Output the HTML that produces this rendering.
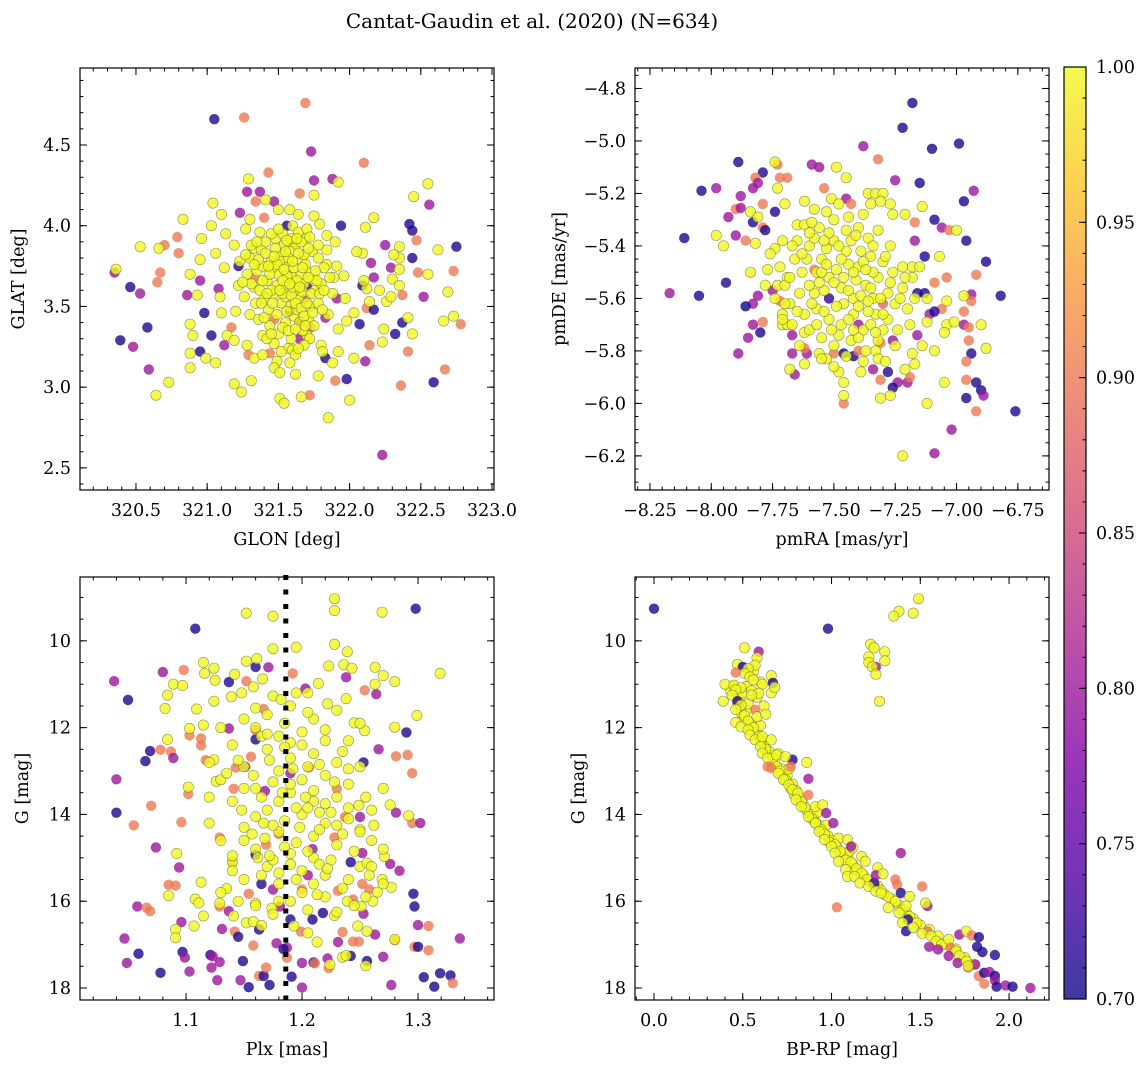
<!DOCTYPE html>
<html><head><meta charset="utf-8">
<style>
html,body{margin:0;padding:0;background:#fff;}
svg{display:block;font-family:"DejaVu Serif","Liberation Serif",serif;}
</style></head>
<body>
<svg id="fig" width="1148" height="1067" viewBox="0 0 1148 1067" xmlns="http://www.w3.org/2000/svg">
<text x="532" y="28" font-size="20" text-anchor="middle">Cantat-Gaudin et al. (2020) (N=634)</text>
</svg>
<script>
// ---------- data: [x, y, membership probability] ----------
const starsSky = [
[321.05,4.66,0.71],[321.26,4.67,0.9],[321.69,4.76,0.9],[321.73,4.46,0.8],[322.10,4.39,0.9],[321.43,4.33,0.9],[321.75,4.28,0.8],[321.88,4.29,0.8],[321.28,4.21,0.8],[321.37,4.21,0.8],[321.65,4.20,0.9],[322.56,4.13,0.8],[321.47,4.15,0.8],[321.34,4.15,0.9],[321.23,4.08,0.8],[321.40,4.05,0.9],[321.56,4.00,0.71],[321.94,4.00,0.71],[322.42,4.01,0.71],[322.44,3.97,0.71],[320.79,3.93,0.9],[320.70,3.88,0.9],[320.80,3.83,0.9],[322.47,3.91,0.9],[322.75,3.87,0.71],[322.44,3.80,0.71],[322.25,3.88,0.8],[322.15,3.77,0.8],[322.29,3.74,0.8],[322.48,3.71,0.9],[322.73,3.72,0.9],[320.35,3.71,0.8],[320.67,3.71,0.9],[320.65,3.65,0.9],[320.46,3.62,0.71],[320.53,3.58,0.8],[320.86,3.57,0.8],[320.95,3.66,0.8],[321.08,3.61,0.8],[321.22,3.75,0.71],[322.09,3.63,0.71],[322.17,3.68,0.8],[322.52,3.56,0.8],[322.37,3.57,0.9],[320.98,3.46,0.71],[322.12,3.49,0.9],[322.17,3.48,0.71],[321.91,3.55,0.8],[320.58,3.37,0.71],[320.39,3.29,0.71],[320.48,3.25,0.8],[321.03,3.32,0.71],[321.12,3.26,0.8],[320.95,3.22,0.71],[321.17,3.37,0.9],[322.07,3.39,0.71],[322.37,3.40,0.71],[322.32,3.33,0.71],[322.78,3.39,0.9],[322.14,3.26,0.9],[322.41,3.22,0.9],[322.11,3.16,0.8],[321.83,3.18,0.71],[321.29,3.20,0.9],[321.44,3.21,0.9],[320.59,3.11,0.8],[322.67,3.11,0.9],[322.59,3.03,0.71],[322.36,3.01,0.9],[321.98,3.05,0.71],[321.90,3.04,0.9],[321.72,2.95,0.9],[322.23,2.58,0.8],[321.65,3.41,0.8],[321.83,3.43,0.8],[321.33,3.68,0.9],[321.47,3.42,0.9],[321.69,3.55,0.85],[321.73,3.37,0.88],[321.58,3.47,0.7],[321.65,3.30,0.8],[321.70,3.62,0.72],[321.62,3.88,0.9],
[321.29,4.29,1],[321.92,4.27,1],[321.75,4.19,1],[321.04,4.14,1],[322.55,4.26,1],[322.45,4.18,1],[321.10,4.07,1],[320.83,4.04,1],[322.17,4.05,1],[322.11,3.99,1],[320.53,3.87,1],[320.66,3.86,1],[320.36,3.73,1],[322.62,3.85,1],[322.35,3.87,1],[322.35,3.80,1],[322.35,3.73,1],[322.55,3.70,1],[322.69,3.59,1],[322.66,3.41,1],[322.73,3.44,1],[322.44,3.33,1],[322.41,3.43,1],[322.24,3.36,1],[322.23,3.28,1],[322.03,3.18,1],[322.00,2.92,1],[321.85,2.81,1],[321.78,3.07,1],[321.62,3.08,1],[321.51,2.93,1],[321.54,2.90,1],[321.66,2.94,1],[321.24,2.97,1],[321.19,3.02,1],[321.31,3.04,1],[320.73,3.03,1],[320.64,2.95,1],[320.88,3.12,1],[320.88,3.21,1],[321.06,3.15,1],[320.99,3.18,1],[320.90,3.32,1],[320.88,3.39,1],[320.93,3.57,1],[320.88,3.70,1],[320.95,3.79,1],[321.06,3.83,1],[320.96,3.92,1],[321.03,4.00,1],[321.13,3.95,1],[321.19,3.88,1],[321.12,3.74,1],[321.09,3.56,1],[321.10,3.46,1],[321.14,3.32,1],[321.19,3.29,1],[321.28,3.26,1],[321.39,3.32,1],[321.33,3.18,1],[321.39,3.20,1],[321.49,3.16,1],[321.47,3.12,1],[321.51,3.09,1],[321.57,3.24,1],[321.60,3.23,1],[321.70,3.32,1],[321.80,3.26,1],[321.81,3.22,1],[321.88,3.15,1],[321.92,3.22,1],[321.92,3.36,1],[321.98,3.41,1],[322.03,3.46,1],[321.97,3.55,1],[321.89,3.68,1],[321.96,3.69,1],[321.84,3.76,1],[321.91,3.75,1],[321.84,3.94,1],[321.90,3.90,1],[321.79,4.01,1],[321.75,4.06,1],[321.64,4.07,1],[321.58,4.10,1],[321.50,4.10,1],[321.41,4.16,1],[321.30,4.04,1],[321.27,3.98,1],[321.33,3.86,1],[322.12,3.61,1],[322.14,3.53,1],[322.21,3.60,1],[322.26,3.53,1],[322.29,3.56,1],[322.09,3.83,1],[322.05,3.84,1],[322.31,3.82,1],[322.30,3.67,1],[322.35,3.63,1],[322.10,3.66,1],
[321.30,3.80,1],[321.35,3.72,1],[321.38,3.85,1],[321.42,3.66,1],[321.45,3.78,1],[321.47,3.58,1],[321.50,3.70,1],[321.52,3.82,1],[321.55,3.62,1],[321.57,3.75,1],[321.60,3.68,1],[321.62,3.88,1],[321.64,3.55,1],[321.66,3.79,1],[321.68,3.64,1],[321.70,3.72,1],[321.72,3.50,1],[321.74,3.84,1],[321.76,3.60,1],[321.40,3.55,1],[321.43,3.48,1],[321.48,3.92,1],[321.53,3.95,1],[321.58,3.50,1],[321.61,3.44,1],[321.65,3.40,1],[321.69,3.92,1],[321.33,3.62,1],[321.28,3.70,1],[321.26,3.56,1],[321.36,3.42,1],[321.44,3.38,1],[321.50,3.33,1],[321.55,3.40,1],[321.59,3.30,1],[321.63,3.48,1],[321.67,3.35,1],[321.71,3.42,1],[321.75,3.38,1],[321.78,3.52,1],[321.80,3.64,1],[321.82,3.74,1],[321.78,3.80,1],[321.54,3.88,1],[321.46,3.74,1],[321.49,3.63,1],[321.52,3.52,1],[321.56,3.69,1],[321.62,3.60,1],[321.66,3.70,1],[321.58,3.84,1],[321.41,3.90,1],[321.37,3.96,1],[321.60,4.00,1],[321.64,3.96,1],[321.45,3.60,1],[321.39,3.75,1],[321.31,3.88,1],[321.23,3.78,1],[321.22,3.63,1],[321.20,3.47,1],[321.30,3.45,1],[321.34,3.52,1],[321.72,3.30,1],[321.68,3.26,1],[321.62,3.20,1],[321.58,3.15,1],[321.52,3.22,1],[321.47,3.27,1],[321.42,3.30,1],[321.85,3.45,1],[321.88,3.58,1],[321.86,3.68,1],[321.84,3.85,1],[321.70,3.98,1],[321.55,3.56,1],[321.51,3.78,1],[321.68,3.82,1],[321.74,3.67,1],
[321.36,3.79,1],[321.41,3.83,1],[321.44,3.70,1],[321.48,3.86,1],[321.49,3.76,1],[321.53,3.66,1],[321.54,3.73,1],[321.57,3.80,1],[321.59,3.92,1],[321.61,3.74,1],[321.63,3.66,1],[321.64,3.83,1],[321.67,3.59,1],[321.69,3.76,1],[321.71,3.86,1],[321.73,3.58,1],[321.37,3.60,1],[321.39,3.66,1],[321.42,3.58,1],[321.46,3.52,1],[321.49,3.45,1],[321.53,3.58,1],[321.56,3.47,1],[321.59,3.57,1],[321.60,3.62,1],[321.62,3.52,1],[321.66,3.49,1],[321.68,3.44,1],[321.70,3.52,1],[321.74,3.46,1],[321.76,3.72,1],[321.77,3.66,1],[321.79,3.58,1],[321.81,3.48,1],[321.56,3.91,1],[321.45,3.95,1],[321.50,3.98,1],[321.66,3.90,1],[321.72,3.93,1],[321.35,3.90,1],[321.33,3.76,1],[321.31,3.64,1],[321.38,3.52,1],[321.40,3.43,1],[321.45,3.33,1],[321.53,3.37,1],[321.57,3.35,1],[321.62,3.36,1],[321.64,3.24,1],[321.69,3.38,1],[321.60,3.78,1],[321.55,3.84,1],[321.47,3.81,1],[321.43,3.75,1],[321.51,3.60,1],[321.58,3.64,1],[321.65,3.62,1],[321.71,3.68,1],[321.67,3.74,1],[321.63,3.92,1],[321.78,3.88,1],[321.82,3.60,1],[321.27,3.82,1],[321.25,3.65,1]
];
const starsPm = [
[-7.18,-4.855,0.71],[-7.22,-4.95,0.71],[-7.10,-5.03,0.71],[-6.99,-5.01,0.71],[-7.38,-5.02,0.8],[-7.32,-5.07,0.9],[-7.89,-5.08,0.71],[-7.73,-5.09,0.9],[-7.59,-5.09,0.8],[-7.56,-5.10,0.8],[-7.79,-5.12,0.71],[-7.82,-5.14,0.9],[-7.72,-5.14,0.9],[-7.69,-5.14,0.9],[-8.04,-5.19,0.71],[-7.98,-5.18,0.8],[-7.83,-5.18,0.8],[-7.81,-5.16,0.8],[-7.54,-5.18,0.9],[-7.25,-5.15,0.8],[-7.15,-5.16,0.71],[-6.93,-5.19,0.8],[-7.88,-5.21,0.8],[-7.79,-5.24,0.9],[-6.97,-5.23,0.71],[-7.90,-5.26,0.9],[-7.88,-5.255,0.8],[-7.74,-5.27,0.71],[-7.93,-5.29,0.8],[-7.83,-5.31,0.71],[-7.79,-5.33,0.9],[-7.78,-5.34,0.71],[-8.11,-5.37,0.71],[-7.90,-5.36,0.8],[-7.86,-5.38,0.9],[-7.45,-5.22,0.8],[-7.43,-5.24,0.9],[-7.17,-5.31,0.9],[-7.09,-5.30,0.71],[-7.06,-5.33,0.8],[-7.03,-5.34,0.9],[-6.96,-5.38,0.71],[-7.17,-5.38,0.8],[-7.13,-5.44,0.71],[-6.88,-5.46,0.71],[-6.92,-5.51,0.9],[-7.04,-5.52,0.9],[-7.09,-5.54,0.9],[-7.94,-5.54,0.71],[-8.17,-5.58,0.8],[-8.05,-5.59,0.71],[-6.82,-5.59,0.71],[-7.16,-5.58,0.71],[-7.13,-5.58,0.71],[-6.94,-5.585,0.8],[-6.94,-5.61,0.9],[-7.81,-5.59,0.8],[-7.83,-5.62,0.8],[-7.86,-5.63,0.7],[-7.72,-5.61,0.9],[-7.75,-5.57,0.8],[-7.83,-5.70,0.8],[-7.79,-5.69,0.9],[-7.80,-5.73,0.71],[-7.85,-5.75,0.8],[-7.89,-5.81,0.8],[-7.67,-5.74,0.8],[-7.67,-5.81,0.8],[-7.61,-5.81,0.8],[-7.62,-5.79,0.9],[-7.50,-5.81,0.9],[-7.42,-5.82,0.71],[-7.40,-5.80,0.9],[-7.31,-5.77,0.9],[-7.16,-5.74,0.8],[-7.11,-5.66,0.8],[-7.06,-5.64,0.9],[-7.09,-5.65,0.71],[-6.97,-5.65,0.9],[-6.97,-5.70,0.8],[-6.95,-5.71,0.9],[-6.95,-5.76,0.9],[-6.94,-5.81,0.71],[-6.96,-5.84,0.9],[-6.96,-5.91,0.9],[-6.92,-5.92,0.71],[-6.90,-5.95,0.71],[-6.89,-5.97,0.8],[-6.96,-5.98,0.71],[-6.92,-6.03,0.9],[-6.76,-6.03,0.71],[-7.02,-6.10,0.8],[-7.09,-6.19,0.8],[-7.66,-5.89,0.8],[-7.34,-5.87,0.8],[-7.31,-5.91,0.9],[-7.28,-5.88,0.71],[-7.24,-5.92,0.8],[-7.20,-5.92,0.8],[-7.26,-5.94,0.71],[-7.19,-5.90,0.9],[-7.46,-6.00,0.9],
[-7.58,-5.49,0.9],[-7.52,-5.60,0.72],[-7.40,-5.70,0.8],[-7.30,-5.62,0.88],[-7.26,-5.76,0.8],[-7.46,-5.81,0.7],
[-7.74,-5.08,1],[-7.49,-5.10,1],[-7.45,-5.14,1],[-7.73,-5.18,1],[-7.84,-5.27,1],[-7.81,-5.29,1],[-7.98,-5.36,1],[-7.95,-5.40,1],[-7.82,-5.39,1],[-7.14,-5.25,1],[-7.00,-5.34,1],[-7.07,-5.44,1],[-6.90,-5.70,1],[-6.88,-5.79,1],[-7.05,-5.92,1],[-7.12,-6.00,1],[-7.22,-6.20,1],[-7.31,-5.98,1],[-7.27,-5.97,1],[-7.46,-5.97,1],[-7.46,-5.92,1],[-7.39,-5.88,1],[-7.68,-5.87,1],[-7.71,-5.70,1],[-7.84,-5.50,1],[-7.77,-5.49,1],[-7.36,-5.20,1],[-7.33,-5.20,1],[-7.30,-5.20,1],[-7.35,-5.24,1],[-7.27,-5.24,1],[-7.31,-5.23,1],[-7.26,-5.28,1],[-7.21,-5.28,1],[-7.51,-5.22,1],[-7.70,-5.24,1],[-7.62,-5.23,1],[-7.65,-5.32,1],[-7.74,-5.41,1],[-7.71,-5.38,1],[-7.18,-5.48,1],[-7.15,-5.48,1],[-7.18,-5.52,1],[-7.12,-5.60,1],[-7.12,-5.69,1],[-7.04,-5.70,1],[-7.01,-5.69,1],[-7.05,-5.73,1],[-6.97,-5.59,1],[-7.04,-5.61,1],[-7.09,-5.80,1],[-7.14,-5.78,1],[-7.18,-5.81,1],[-7.17,-5.85,1],[-7.21,-5.87,1],[-7.33,-5.80,1],[-7.32,-5.83,1],[-7.56,-5.81,1],[-7.53,-5.83,1],[-7.48,-5.88,1],[-7.62,-5.73,1],[-7.69,-5.70,1],[-7.71,-5.66,1],[-7.73,-5.55,1],[-7.69,-5.52,1],
[-7.60,-5.40,1],[-7.55,-5.45,1],[-7.50,-5.38,1],[-7.45,-5.42,1],[-7.40,-5.48,1],[-7.35,-5.44,1],[-7.52,-5.52,1],[-7.47,-5.56,1],[-7.42,-5.60,1],[-7.37,-5.55,1],[-7.32,-5.52,1],[-7.28,-5.58,1],[-7.58,-5.58,1],[-7.63,-5.50,1],[-7.66,-5.45,1],[-7.70,-5.55,1],[-7.68,-5.62,1],[-7.62,-5.66,1],[-7.57,-5.64,1],[-7.52,-5.68,1],[-7.47,-5.70,1],[-7.42,-5.66,1],[-7.38,-5.72,1],[-7.33,-5.66,1],[-7.28,-5.68,1],[-7.25,-5.62,1],[-7.30,-5.46,1],[-7.26,-5.50,1],[-7.22,-5.56,1],[-7.45,-5.34,1],[-7.50,-5.30,1],[-7.56,-5.33,1],[-7.62,-5.32,1],[-7.40,-5.33,1],[-7.36,-5.37,1],[-7.55,-5.75,1],[-7.60,-5.72,1],[-7.50,-5.78,1],[-7.43,-5.76,1],[-7.37,-5.80,1],[-7.32,-5.76,1],[-7.64,-5.78,1],[-7.72,-5.48,1],[-7.74,-5.60,1],[-7.65,-5.38,1],[-7.58,-5.26,1],[-7.48,-5.24,1],[-7.44,-5.47,1],[-7.49,-5.49,1],[-7.54,-5.57,1],[-7.41,-5.53,1],[-7.34,-5.60,1],[-7.24,-5.72,1],[-7.20,-5.64,1],[-7.22,-5.48,1],[-7.27,-5.40,1],[-7.32,-5.34,1],[-7.67,-5.70,1],[-7.71,-5.68,1],[-7.57,-5.50,1],[-7.46,-5.62,1],[-7.39,-5.42,1],[-7.52,-5.35,1],[-7.61,-5.45,1],[-7.36,-5.65,1],[-7.30,-5.72,1],[-7.45,-5.82,1],[-7.55,-5.83,1],[-7.29,-5.84,1],[-7.19,-5.70,1],[-7.17,-5.60,1],[-7.76,-5.43,1],[-7.78,-5.55,1],
[-7.58,-5.37,1],[-7.53,-5.41,1],[-7.47,-5.45,1],[-7.43,-5.38,1],[-7.38,-5.46,1],[-7.34,-5.50,1],[-7.55,-5.50,1],[-7.50,-5.54,1],[-7.44,-5.57,1],[-7.39,-5.59,1],[-7.35,-5.56,1],[-7.31,-5.60,1],[-7.60,-5.55,1],[-7.64,-5.58,1],[-7.59,-5.62,1],[-7.54,-5.65,1],[-7.49,-5.63,1],[-7.44,-5.68,1],[-7.40,-5.63,1],[-7.35,-5.70,1],[-7.30,-5.66,1],[-7.48,-5.40,1],[-7.42,-5.50,1],[-7.37,-5.49,1],[-7.53,-5.47,1],[-7.63,-5.43,1],[-7.68,-5.52,1],[-7.65,-5.65,1],[-7.57,-5.70,1],[-7.48,-5.74,1],[-7.40,-5.75,1],[-7.33,-5.73,1],[-7.27,-5.54,1],[-7.29,-5.44,1],[-7.34,-5.40,1],[-7.41,-5.36,1],[-7.54,-5.38,1],[-7.60,-5.35,1],[-7.67,-5.40,1],[-7.44,-5.29,1],[-7.38,-5.28,1],[-7.53,-5.27,1],[-7.23,-5.60,1],[-7.21,-5.52,1],[-7.25,-5.78,1],[-7.38,-5.84,1],[-7.50,-5.86,1],[-7.62,-5.85,1],[-7.70,-5.62,1],[-7.56,-5.54,1],[-7.46,-5.52,1],[-7.36,-5.61,1],[-7.51,-5.72,1],[-7.42,-5.72,1],[-7.59,-5.31,1]
];
const starsPlx = [
[1.108,9.72,0.71],[1.298,9.26,0.71],[1.038,10.93,0.8],[1.050,11.36,0.71],[1.080,10.72,0.8],[1.098,10.67,0.9],[1.137,10.95,0.71],[1.152,10.93,0.9],[1.160,10.60,0.71],[1.171,10.61,0.8],[1.192,10.75,0.9],[1.203,11.10,0.8],[1.238,10.84,0.8],[1.254,11.14,0.9],[1.264,11.23,0.8],[1.167,11.57,0.9],[1.103,12.18,0.9],[1.113,12.25,0.9],[1.113,12.41,0.9],[1.137,12.02,0.8],[1.160,12.27,0.71],[1.290,12.11,0.71],[1.266,12.50,0.8],[1.069,12.54,0.71],[1.065,12.77,0.71],[1.078,12.51,0.9],[1.087,12.55,0.9],[1.089,12.70,0.8],[1.117,12.75,0.9],[1.156,12.67,0.9],[1.281,12.66,0.9],[1.291,12.63,0.9],[1.253,12.80,0.71],[1.295,13.05,0.9],[1.040,13.19,0.8],[1.143,12.92,0.9],[1.151,12.90,0.8],[1.206,12.92,0.9],[1.102,13.53,0.9],[1.070,13.80,0.9],[1.040,13.96,0.71],[1.055,14.25,0.9],[1.096,14.18,0.9],[1.141,13.41,0.9],[1.168,13.46,0.8],[1.230,13.41,0.9],[1.281,13.96,0.8],[1.295,14.20,0.9],[1.302,14.20,0.8],[1.237,14.06,0.9],[1.250,14.06,0.8],[1.228,14.53,0.9],[1.129,14.53,0.9],[1.074,14.76,0.8],[1.169,14.70,0.9],[1.160,14.93,0.71],[1.209,14.80,0.8],[1.242,15.10,0.71],[1.252,14.89,0.8],[1.094,15.22,0.8],[1.276,15.14,0.8],[1.284,15.30,0.8],[1.140,15.10,0.9],[1.165,15.60,0.71],[1.085,15.62,0.9],[1.091,15.64,0.9],[1.175,15.73,0.8],[1.200,15.73,0.9],[1.231,15.76,0.9],[1.252,15.60,0.9],[1.258,15.73,0.9],[1.296,15.83,0.71],[1.205,15.40,0.8],[1.154,15.83,0.9],[1.058,16.12,0.8],[1.066,16.15,0.9],[1.069,16.23,0.9],[1.137,16.23,0.8],[1.129,16.12,0.9],[1.181,16.12,0.8],[1.218,16.27,0.71],[1.244,15.96,0.9],[1.253,16.29,0.8],[1.297,16.12,0.71],[1.096,16.48,0.8],[1.131,16.64,0.8],[1.142,16.70,0.9],[1.145,16.82,0.71],[1.163,16.65,0.71],[1.190,16.42,0.71],[1.209,16.42,0.71],[1.199,16.70,0.9],[1.235,16.71,0.9],[1.263,16.77,0.8],[1.300,16.55,0.8],[1.309,16.57,0.9],[1.047,16.86,0.8],[1.158,17.02,0.9],[1.178,16.97,0.8],[1.187,17.07,0.8],[1.231,16.94,0.8],[1.244,16.93,0.9],[1.249,16.93,0.9],[1.280,16.90,0.9],[1.297,17.05,0.9],[1.300,17.05,0.71],[1.309,17.13,0.9],[1.336,16.86,0.8],[1.059,17.21,0.71],[1.049,17.42,0.8],[1.097,17.17,0.71],[1.099,17.30,0.8],[1.121,17.24,0.71],[1.123,17.27,0.8],[1.129,17.40,0.8],[1.149,17.38,0.71],[1.122,17.53,0.8],[1.103,17.62,0.8],[1.078,17.65,0.71],[1.127,17.82,0.8],[1.147,17.82,0.8],[1.154,17.98,0.71],[1.163,17.72,0.9],[1.167,17.72,0.71],[1.169,17.53,0.9],[1.172,17.93,0.71],[1.184,17.10,0.71],[1.191,17.74,0.71],[1.187,17.30,0.9],[1.200,17.99,0.8],[1.200,17.42,0.8],[1.210,17.41,0.71],[1.211,17.43,0.9],[1.223,17.54,0.9],[1.222,17.32,0.8],[1.242,17.26,0.71],[1.256,17.38,0.71],[1.270,17.28,0.8],[1.277,17.93,0.8],[1.305,17.75,0.71],[1.314,17.97,0.71],[1.319,17.66,0.71],[1.328,17.71,0.71],[1.330,17.89,0.9],
[1.18,14.45,0.9],[1.16,12.05,0.88],[1.19,13.05,0.8],
[1.228,9.03,1],[1.228,9.30,1],[1.269,9.34,1],[1.152,9.36,1],[1.175,9.43,1],[1.319,10.75,1],[1.228,10.08,1],[1.195,10.15,1],[1.175,10.18,1],[1.239,10.25,1],[1.161,10.41,1],[1.152,10.47,1],[1.115,10.50,1],[1.124,10.63,1],[1.116,10.75,1],[1.142,10.77,1],[1.089,11.00,1],[1.097,11.03,1],[1.084,11.25,1],[1.125,10.91,1],[1.082,11.56,1],[1.109,11.57,1],[1.124,11.39,1],[1.139,11.29,1],[1.148,11.20,1],[1.158,11.06,1],[1.166,10.88,1],[1.175,11.27,1],[1.182,11.35,1],[1.195,11.20,1],[1.205,11.20,1],[1.214,10.98,1],[1.223,10.58,1],[1.236,10.55,1],[1.243,10.63,1],[1.238,11.33,1],[1.222,11.45,1],[1.263,10.61,1],[1.270,10.80,1],[1.280,10.94,1],[1.263,11.00,1],[1.299,11.72,1],[1.280,11.99,1],[1.254,12.07,1],[1.245,11.89,1],[1.084,12.27,1],[1.103,12.02,1],[1.115,11.94,1],[1.124,12.74,1],[1.126,13.24,1],[1.102,13.37,1],[1.092,14.90,1],[1.085,15.87,1],[1.091,16.65,1],[1.091,16.84,1],[1.107,16.57,1],[1.115,16.34,1],[1.108,15.95,1],[1.111,16.04,1],[1.135,15.71,1],[1.113,15.56,1],[1.129,16.05,1],[1.141,16.34,1],[1.152,16.50,1],[1.158,16.47,1],[1.165,16.56,1],[1.224,17.46,1],[1.235,17.29,1],[1.238,17.25,1],[1.255,17.49,1],[1.280,16.88,1],[1.256,16.69,1],[1.248,16.57,1],[1.228,16.33,1],[1.213,16.94,1],[1.205,16.73,1],[1.193,16.57,1],[1.174,16.16,1],[1.160,16.05,1],[1.292,14.03,1],[1.276,13.78,1],[1.249,13.79,1],[1.250,14.35,1],[1.271,14.97,1],[1.277,15.68,1],[1.269,15.50,1],[1.265,15.79,1],[1.261,16.00,1],[1.251,16.12,1],[1.239,16.00,1],[1.250,15.20,1],[1.256,15.12,1],
[1.16,12.0,1],[1.18,12.2,1],[1.20,12.1,1],[1.22,12.3,1],[1.17,12.5,1],[1.19,12.7,1],[1.21,12.6,1],[1.23,12.8,1],[1.15,12.9,1],[1.18,13.0,1],[1.20,13.2,1],[1.22,13.1,1],[1.24,13.3,1],[1.16,13.4,1],[1.19,13.5,1],[1.21,13.7,1],[1.23,13.6,1],[1.14,13.7,1],[1.17,13.9,1],[1.20,14.0,1],[1.22,14.2,1],[1.24,14.1,1],[1.15,14.3,1],[1.18,14.4,1],[1.21,14.5,1],[1.23,14.7,1],[1.16,14.8,1],[1.19,14.9,1],[1.21,15.0,1],[1.17,15.2,1],[1.20,15.3,1],[1.22,15.4,1],[1.15,15.5,1],[1.18,15.6,1],[1.24,15.5,1],[1.26,15.2,1],[1.14,15.1,1],[1.13,14.6,1],[1.25,14.4,1],[1.26,13.9,1],[1.13,13.2,1],[1.25,12.9,1],[1.14,12.4,1],[1.24,12.3,1],[1.17,11.7,1],[1.21,11.8,1],[1.19,11.5,1],[1.23,11.6,1],[1.15,11.8,1],[1.25,11.9,1],[1.18,16.0,1],[1.20,15.8,1],[1.16,16.1,1],[1.22,15.9,1],[1.13,15.8,1],[1.27,14.8,1],[1.12,14.2,1],[1.12,13.6,1],[1.27,13.4,1],[1.12,12.8,1],[1.19,12.35,1],[1.175,13.25,1],[1.205,13.85,1],[1.185,14.15,1],[1.195,14.65,1],[1.175,15.05,1],[1.215,15.15,1],[1.165,13.6,1],[1.225,13.95,1],[1.205,12.9,1],[1.165,12.2,1],[1.235,12.55,1],[1.235,15.7,1],[1.255,15.9,1],[1.245,16.1,1],[1.205,16.2,1],[1.145,16.0,1],[1.14,15.3,1],[1.26,14.6,1],[1.27,15.6,1],[1.13,12.0,1],
[1.170,12.15,1],[1.185,12.45,1],[1.200,12.40,1],[1.215,12.85,1],[1.172,12.75,1],[1.158,13.10,1],[1.190,13.30,1],[1.210,13.45,1],[1.228,13.25,1],[1.180,13.70,1],[1.195,13.85,1],[1.215,13.95,1],[1.160,14.05,1],[1.175,14.25,1],[1.198,14.30,1],[1.215,14.35,1],[1.235,14.45,1],[1.168,14.55,1],[1.185,14.75,1],[1.205,14.85,1],[1.225,15.05,1],[1.162,15.00,1],[1.180,15.35,1],[1.195,15.50,1],[1.210,15.60,1],[1.165,15.40,1],[1.150,14.60,1],[1.148,13.90,1],[1.150,13.40,1],[1.240,13.85,1],[1.245,14.85,1],[1.240,12.95,1],[1.185,11.90,1],[1.205,11.65,1],[1.220,12.05,1],[1.160,11.55,1],[1.175,16.30,1],[1.190,16.00,1],[1.230,16.25,1],[1.213,15.85,1],[1.183,13.50,1],[1.203,13.60,1],[1.192,12.95,1],[1.220,13.75,1],[1.230,14.25,1],[1.167,14.20,1],[1.157,14.45,1],[1.172,14.95,1],[1.190,15.15,1],[1.222,15.25,1],[1.145,12.75,1],[1.135,13.05,1],[1.255,13.60,1],[1.262,14.25,1],[1.140,14.95,1],[1.258,15.40,1]
];
const starsCmd = [
[0.00,9.26,0.71],[0.98,9.72,0.71],
[1.49,9.03,1],[1.46,9.36,1],[1.38,9.32,1],[1.35,9.43,1],[1.22,10.08,1],[1.24,10.16,1],[1.30,10.25,1],[1.30,10.46,1],[1.21,10.37,1],[1.21,10.50,1],[1.25,10.60,0.8],[1.23,10.60,1],[1.25,10.77,1],[1.27,11.39,1],
[0.48,11.3,1],[0.52,11.6,1],[0.50,11.8,1],[0.55,11.9,1],[0.58,12.1,1],[0.62,12.4,1],[0.65,12.55,1],[0.68,12.8,1],[0.72,12.95,1],[0.75,13.1,1],[0.78,13.3,1],[0.80,13.45,1],[0.82,13.6,1],[0.84,13.75,1],[0.86,13.9,1],[0.88,14.0,1],[0.90,14.1,1],[0.93,14.25,1],[0.95,14.4,1],[0.98,14.5,1],[1.00,14.6,1],[1.03,14.75,1],[1.06,14.9,1],[1.09,15.0,1],[1.12,15.15,1],[1.15,15.3,1],[1.18,15.4,1],[1.22,15.55,1],[1.26,15.65,1],[1.30,15.85,1],[1.34,15.95,1],[1.38,16.1,1],[1.42,16.25,1],[1.46,16.4,1],[1.50,16.55,1],[1.55,16.65,1],[1.60,16.8,1],[1.65,17.0,1],[1.70,17.1,1],[1.75,17.3,1],[1.80,17.45,1],[0.45,11.05,1],[0.53,11.45,1],[0.60,11.95,1],[0.70,12.6,1],[0.76,12.95,1],[0.92,13.95,1],[0.97,14.25,1],[1.04,14.55,1],[1.10,14.85,1],[0.60,10.95,1],[0.56,10.7,1],[0.66,11.2,1],[0.62,11.5,1],
[0.47,11.45,1],[0.49,11.65,1],[0.51,11.72,1],[0.53,11.85,1],[0.56,12.0,1],[0.59,12.2,1],[0.60,12.3,1],[0.63,12.5,1],[0.67,12.7,1],[0.69,12.9,1],[0.71,13.0,1],[0.74,13.2,1],[0.77,13.4,1],[0.79,13.55,1],[0.83,13.7,1],[0.85,13.85,1],[0.89,14.1,1],[0.91,14.2,1],[0.94,14.35,1],[0.96,14.45,1],[0.99,14.65,1],[1.02,14.7,1],[1.05,14.85,1],[1.08,15.05,1],[1.11,15.1,1],[1.14,15.25,1],[1.17,15.35,1],[1.20,15.5,1],[1.24,15.6,1],[1.28,15.75,1],[1.32,15.9,1],[1.36,16.0,1],[1.40,16.2,1],[1.44,16.35,1],[1.48,16.5,1],[0.52,11.05,1],[0.50,11.2,1],[0.55,11.15,1],[0.58,11.3,1],[0.43,11.15,1],
[0.51,10.16,1],[0.59,10.25,0.8],[0.58,10.39,1],[0.57,10.56,1],[0.47,10.54,1],[0.50,10.60,0.71],[0.53,10.64,1],[0.51,10.75,1],[0.46,10.73,0.9],[0.54,10.83,1],[0.56,10.90,1],[0.40,11.00,1],[0.45,11.02,1],[0.49,11.08,1],[0.46,11.13,1],[0.44,11.25,1],[0.39,11.39,1],[0.61,11.00,1],[0.66,10.80,1],[0.67,10.97,0.71],[0.68,11.07,1],[0.59,11.21,1],[0.55,11.25,1],[0.47,11.39,0.71],[0.49,11.48,1],[0.46,11.58,1],[0.57,11.59,0.9],[0.58,11.75,1],[0.63,11.69,1],[0.46,11.88,1],[0.49,11.98,1],[0.53,12.05,1],[0.54,12.17,1],[0.57,12.28,1],[0.61,12.21,1],[0.66,12.28,1],[0.60,12.44,1],[0.61,12.59,1],[0.64,12.70,1],[0.69,12.63,1],[0.78,12.74,0.71],[0.74,12.67,1],[0.86,12.80,1],[0.66,12.93,0.9],[0.70,13.05,1],[0.73,13.20,1],[0.76,13.32,1],[0.78,13.43,1],[0.87,13.55,0.9],[0.81,13.51,1],[0.80,13.66,1],[0.83,13.82,1],[0.87,14.05,1],[0.91,13.82,1],[0.95,13.78,1],[0.97,13.97,0.8],[1.01,14.20,0.8],[0.91,14.20,1],[0.93,14.39,1],[0.96,14.58,1],[1.00,14.74,1],[1.02,14.89,1],[1.09,14.58,1],[1.12,14.77,1],[1.17,14.97,1],[1.19,15.08,1],[1.04,15.08,1],[1.08,15.27,1],[1.09,15.43,1],[1.13,15.43,1],[1.16,15.58,1],[1.24,15.58,0.71],[1.21,15.66,1],[1.25,15.77,1],[1.28,15.81,1],[1.26,15.23,1],[1.25,15.40,0.8],[1.29,15.37,1],[1.32,16.15,1],[1.36,15.50,0.9],[1.37,15.62,0.9],[1.39,15.81,0.71],[1.44,15.89,1],[1.51,15.66,0.9],[1.54,16.11,0.8],[1.53,16.04,1],[1.42,16.11,1],[1.38,16.27,1],[1.43,16.42,0.71],[1.40,16.50,1],[1.42,16.69,0.71],[1.46,16.61,1],[1.54,16.69,0.9],[1.51,16.74,1],[1.56,16.80,1],[1.59,16.92,1],[1.55,17.05,0.8],[1.62,17.00,1],[1.60,17.11,0.8],[1.66,16.88,1],[1.67,17.07,0.9],[1.70,17.15,1],[1.66,17.26,0.8],[1.72,17.26,1],[1.72,16.77,0.8],[1.76,16.69,1],[1.79,16.79,0.9],[1.83,16.83,0.71],[1.82,17.05,0.71],[1.85,17.17,0.71],[1.92,17.24,0.71],[1.71,17.42,0.8],[1.76,17.38,1],[1.77,17.53,0.9],[1.81,17.46,0.8],[1.77,17.49,1],[1.83,17.72,0.9],[1.86,17.90,0.9],[1.86,17.65,0.71],[1.89,17.63,0.8],[1.92,17.72,0.71],[1.92,17.82,0.8],[1.93,17.97,0.71],[1.98,17.94,0.8],[2.02,17.97,0.71],[2.12,18.00,0.8],[1.39,14.89,0.8],[1.03,16.14,0.9],[1.11,14.74,0.8],[0.77,12.90,0.9],[0.64,12.90,0.9],[0.87,13.18,0.8]
];
// axis ticks (major)
const skyXTicks = [320.5,321.0,321.5,322.0,322.5,323.0];
const skyYTicks = [2.5,3.0,3.5,4.0,4.5];
const pmXTicks = [-8.25,-8.00,-7.75,-7.50,-7.25,-7.00,-6.75];
const pmYTicks = [-6.2,-6.0,-5.8,-5.6,-5.4,-5.2,-5.0,-4.8];
const plxXTicks = [1.1,1.2,1.3];
const gTicks = [10,12,14,16,18];
const colorXTicks = [0.0,0.5,1.0,1.5,2.0];
const cbarTicks = [0.70,0.75,0.80,0.85,0.90,0.95,1.00];
const plxLine = 1.186;

const NS = "http://www.w3.org/2000/svg";
const svg = document.getElementById('fig');
const TICK_FS = 17.5, LABEL_FS = 17.5;
function mk(tag, attrs, parent){ const e=document.createElementNS(NS,tag); for(const k in attrs) e.setAttribute(k,attrs[k]); (parent||svg).appendChild(e); return e; }

const plasmaStops = [[0,[13,8,135]],[0.125,[76,2,161]],[0.25,[126,3,168]],[0.375,[169,35,149]],[0.5,[204,71,120]],[0.625,[229,107,93]],[0.75,[248,149,64]],[0.875,[253,197,39]],[1,[240,249,33]]];
function plasma(t){ t=Math.max(0,Math.min(1,t)); for(let i=1;i<plasmaStops.length;i++){ if(t<=plasmaStops[i][0]){ const a=plasmaStops[i-1],b=plasmaStops[i]; const f=(t-a[0])/(b[0]-a[0]); const c=a[1].map((v,j)=>Math.round(v+(b[1][j]-v)*f)); return 'rgb('+c.join(',')+')'; } } return 'rgb(240,249,33)'; }
function fmt(v,d){ return (v<0?'\u2212':'')+Math.abs(v).toFixed(d); }

function panel(cfg){
  const g = mk('g',{});
  
  
  const sx = v => cfg.px0 + (v-cfg.x0)/(cfg.x1-cfg.x0)*(cfg.px1-cfg.px0);
  const sy = v => cfg.py0 + (v-cfg.y0)/(cfg.y1-cfg.y0)*(cfg.py1-cfg.py0);
  const clip = mk('clipPath',{id:cfg.name+'-clip'},g);
  mk('rect',{x:cfg.px0,y:cfg.py0,width:cfg.px1-cfg.px0,height:cfg.py1-cfg.py0},clip);
  const pts = mk('g',{'clip-path':'url(#'+cfg.name+'-clip)'},g);
  
  
  cfg.data.forEach(d=>{
    const t=(d[2]-0.7)/0.3;
    const c = mk('circle',{cx:sx(d[0]).toFixed(1),cy:sy(d[1]).toFixed(1),r:5.2,fill:plasma(t),'fill-opacity':0.8},pts);
    if(d[2]>=0.99){ c.setAttribute('stroke','#6b6b30'); c.setAttribute('stroke-width','0.6'); c.setAttribute('stroke-opacity','0.7'); }
    
    
  });
  if(cfg.vline!==undefined){
    const l = mk('line',{x1:sx(cfg.vline),x2:sx(cfg.vline),y1:cfg.py0-2,y2:cfg.py1,stroke:'#000','stroke-width':5,'stroke-dasharray':'5 9.5'},g);
    
    
  }
  const tk = mk('g',{stroke:'#000','stroke-width':1},g);
  const lo=Math.min(cfg.x0,cfg.x1), hi=Math.max(cfg.x0,cfg.x1);
  for(let v=Math.ceil(lo/cfg.xm-1e-6)*cfg.xm; v<=hi+1e-9; v+=cfg.xm){ const x=sx(v); mk('line',{x1:x,x2:x,y1:cfg.py1,y2:cfg.py1-3.5},tk); mk('line',{x1:x,x2:x,y1:cfg.py0,y2:cfg.py0+3.5},tk); }
  const ylo=Math.min(cfg.y0,cfg.y1), yhi=Math.max(cfg.y0,cfg.y1);
  for(let v=Math.ceil(ylo/cfg.ym-1e-6)*cfg.ym; v<=yhi+1e-9; v+=cfg.ym){ const y=sy(v); mk('line',{x1:cfg.px0,x2:cfg.px0+3.5,y1:y,y2:y},tk); mk('line',{x1:cfg.px1,x2:cfg.px1-3.5,y1:y,y2:y},tk); }
  cfg.xt.forEach(v=>{ const x=sx(v); mk('line',{x1:x,x2:x,y1:cfg.py1,y2:cfg.py1-7},tk); mk('line',{x1:x,x2:x,y1:cfg.py0,y2:cfg.py0+7},tk);
    const t=mk('text',{x:x,y:cfg.py1+26,'font-size':TICK_FS,'text-anchor':'middle'},g); t.textContent=fmt(v,cfg.xd);
      });
  cfg.yt.forEach(v=>{ const y=sy(v); mk('line',{x1:cfg.px0,x2:cfg.px0+7,y1:y,y2:y},tk); mk('line',{x1:cfg.px1,x2:cfg.px1-7,y1:y,y2:y},tk);
    const t=mk('text',{x:cfg.px0-9,y:y+6,'font-size':TICK_FS,'text-anchor':'end'},g); t.textContent=fmt(v,cfg.yd);
      });
  const fr = mk('rect',{x:cfg.px0,y:cfg.py0,width:cfg.px1-cfg.px0,height:cfg.py1-cfg.py0,fill:'none',stroke:'#000','stroke-width':1.2},g);
   
  const xl = mk('text',{x:(cfg.px0+cfg.px1)/2,y:cfg.py1+55,'font-size':LABEL_FS,'text-anchor':'middle'},g); xl.textContent=cfg.xlabel;
   
  const yx=cfg.ylx, yy=(cfg.py0+cfg.py1)/2;
  const yl = mk('text',{x:yx,y:yy,'font-size':LABEL_FS,'text-anchor':'middle',transform:'rotate(-90 '+yx+' '+yy+')'},g); yl.textContent=cfg.ylabel;
   
}

panel({name:'sky-panel',data:starsSky,px0:80,px1:494,py0:68,py1:490,x0:320.107,x1:323.014,y0:4.977,y1:2.363,xt:skyXTicks,yt:skyYTicks,xm:0.1,ym:0.1,xd:1,yd:1,xlabel:'GLON [deg]',ylabel:'GLAT [deg]',ylx:24});
panel({name:'proper-motion-panel',data:starsPm,px0:635,px1:1049,py0:68,py1:490,x0:-8.311,x1:-6.623,y0:-4.722,y1:-6.330,xt:pmXTicks,yt:pmYTicks,xm:0.05,ym:0.05,xd:2,yd:1,xlabel:'pmRA [mas/yr]',ylabel:'pmDE [mas/yr]',ylx:565});
panel({name:'parallax-panel',data:starsPlx,px0:80,px1:494,py0:577,py1:1000,x0:1.0086,x1:1.3655,y0:8.529,y1:18.276,xt:plxXTicks,yt:gTicks,xm:0.02,ym:0.5,xd:1,yd:0,xlabel:'Plx [mas]',ylabel:'G [mag]',ylx:28,vline:plxLine});
panel({name:'cmd-panel',data:starsCmd,px0:635,px1:1049,py0:577,py1:1000,x0:-0.107,x1:2.225,y0:8.529,y1:18.276,xt:colorXTicks,yt:gTicks,xm:0.1,ym:0.5,xd:1,yd:0,xlabel:'BP-RP [mag]',ylabel:'G [mag]',ylx:584});

// colorbar
(function(){
  const cb = mk('g',{});
  
  
  const defs = mk('defs',{},cb);
  const lg = mk('linearGradient',{id:'cbg',x1:0,y1:1,x2:0,y2:0},defs);
  plasmaStops.forEach(s=>{ mk('stop',{offset:s[0],'stop-color':'rgb('+s[1].join(',')+')','stop-opacity':0.8},lg); });
  const X0=1064,X1=1086,Y0=67,Y1=999;
  mk('rect',{x:X0,y:Y0,width:X1-X0,height:Y1-Y0,fill:'url(#cbg)'},cb);
  const sy = v => Y1 - (v-0.7)/0.3*(Y1-Y0);
  for(let i=0;i<=30;i++){ const y=sy(0.7+i*0.01); mk('line',{x1:X1,x2:X1-3.5,y1:y,y2:y,stroke:'#000','stroke-width':1},cb); }
  cbarTicks.forEach(v=>{ const y=sy(v); mk('line',{x1:X1,x2:X1-7,y1:y,y2:y,stroke:'#000','stroke-width':1},cb);
    const t=mk('text',{x:X1+10,y:y+6,'font-size':TICK_FS},cb); t.textContent=v.toFixed(2);
      });
  mk('rect',{x:X0,y:Y0,width:X1-X0,height:Y1-Y0,fill:'none',stroke:'#000','stroke-width':1.2},cb);
})();
</script>
</body></html>
